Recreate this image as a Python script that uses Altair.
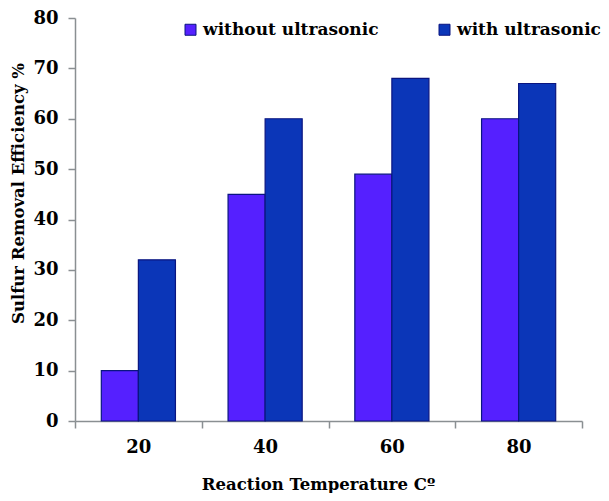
import altair as alt
import pandas as pd

temps = ["20", "40", "60", "80"]
series = ["without ultrasonic", "with ultrasonic"]
without_vals = [10, 45, 49, 60]
with_vals = [32, 60, 68, 67]

rows = []
for t, a, b in zip(temps, without_vals, with_vals):
    rows.append({"temp": t, "series": series[0], "value": a})
    rows.append({"temp": t, "series": series[1], "value": b})
df = pd.DataFrame(rows)

FONT = "DejaVu Serif"
GRAY = "#8a8f92"
NAVY = "#0a1580"

chart = alt.Chart(df).mark_bar(stroke=NAVY, strokeWidth=1.2).encode(
    x=alt.X("temp:N", sort=temps,
            scale=alt.Scale(paddingInner=0, paddingOuter=0),
            axis=alt.Axis(title="Reaction Temperature Cº", labelAngle=0, tickBand="extent",
                          tickSize=7, labelPadding=10, domainColor=GRAY, tickColor=GRAY,
                          domainWidth=1.5, tickWidth=1.5,
                          labelFont=FONT, labelFontWeight="bold", labelFontSize=18, labelColor="black",
                          titleFont=FONT, titleFontWeight="bold", titleFontSize=16.5, titleColor="black",
                          titleX=243, titleY=63, titleAlign="center", titleBaseline="middle")),
    xOffset=alt.XOffset("series:N", sort=series,
                        scale=alt.Scale(paddingOuter=0.71, paddingInner=0)),
    y=alt.Y("value:Q",
            scale=alt.Scale(domain=[0, 80], nice=False),
            axis=alt.Axis(title="Sulfur Removal Efficiency %", values=[0, 10, 20, 30, 40, 50, 60, 70, 80],
                          grid=False, tickSize=7, labelPadding=10, domainColor=GRAY, tickColor=GRAY,
                          domainWidth=1.5, tickWidth=1.5,
                          labelFont=FONT, labelFontWeight="bold", labelFontSize=18, labelColor="black",
                          titleFont=FONT, titleFontWeight="bold", titleFontSize=16.5, titleColor="black",
                          titleAngle=270, titleX=-57, titleY=175, titleAlign="center",
                          titleBaseline="middle")),
    color=alt.Color("series:N", sort=series,
                    scale=alt.Scale(domain=series, range=["#5520ff", "#0b36b8"]),
                    legend=alt.Legend(title=None, orient="none", legendX=107, legendY=3,
                                      direction="horizontal", symbolType="square", symbolSize=121,
                                      symbolStrokeColor=NAVY, symbolStrokeWidth=1,
                                      labelFont=FONT, labelFontWeight="bold", labelFontSize=17,
                                      labelColor="black", labelOffset=4, columnPadding=57,
                                      labelLimit=400)),
).properties(
    width=507,
    height=403,
    autosize=alt.AutoSizeParams(type="none"),
    padding={"left": 67, "top": 10, "right": 19, "bottom": 72},
).configure_view(stroke=None)

chart.save("out.html", embed_options={"renderer": "svg", "actions": False})
